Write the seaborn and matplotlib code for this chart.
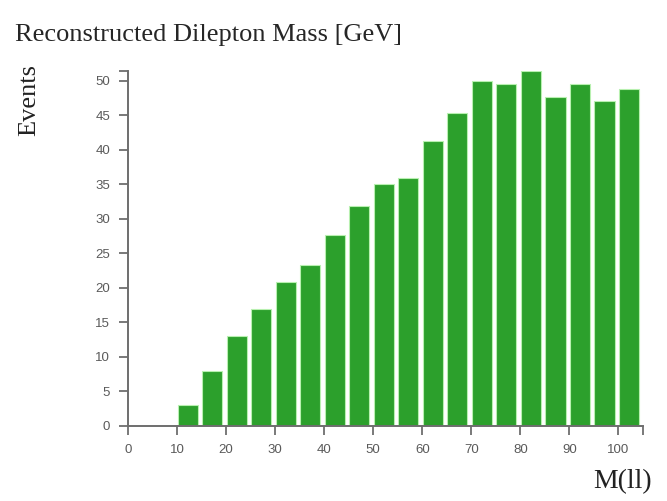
import numpy as np
import pandas as pd
import matplotlib
matplotlib.use("Agg")
import matplotlib.pyplot as plt
import seaborn as sns

# dilepton mass bins (GeV, lower edge) and event counts
bin_low = [10, 15, 20, 25, 30, 35, 40, 45, 50, 55, 60, 65, 70, 75, 80, 85, 90, 95, 100]
events = [3.0, 8.0, 13.0, 16.9, 20.9, 23.3, 27.7, 31.9, 35.1, 35.9, 41.2, 45.3,
          50.0, 49.5, 51.4, 47.7, 49.5, 47.1, 48.8]
bin_width = 5
x_ticks = [0, 10, 20, 30, 40, 50, 60, 70, 80, 90, 100]
y_ticks = [0, 5, 10, 15, 20, 25, 30, 35, 40, 45, 50]

df = pd.DataFrame({"mass": bin_low, "events": events})

sns.set_style("white")
plt.rcParams["font.family"] = ["Liberation Sans", "DejaVu Sans"]

fig = plt.figure(figsize=(6.67, 5.01), dpi=100)
ax = fig.add_axes([128 / 667, 75 / 501, 515 / 667, 355 / 501])

green = "#2ca02c"
sns.histplot(data=df, x="mass", weights="events", binwidth=bin_width, binrange=(10, 105),
             ax=ax, color=green, alpha=1, shrink=0.82, edgecolor="#b8f0b0", linewidth=0.8)
# push bars to the left edge of each bin
for p in ax.patches:
    p.set_x(p.get_x() - 0.35)

xmax = 105
ymax = max(events)
ax.set_xlim(0, xmax)
ax.set_ylim(0, ymax)
ax.set_xticks(x_ticks)
ax.set_yticks(y_ticks)
ax.set_xticks([xmax], minor=True)
ax.set_yticks([ymax], minor=True)

axis_col = "#6e6e6e"
for s in ["top", "right"]:
    ax.spines[s].set_visible(False)
for s in ["left", "bottom"]:
    ax.spines[s].set_color(axis_col)
    ax.spines[s].set_linewidth(1.4)
ax.tick_params(axis="both", which="both", direction="out", length=6.5, width=1.3,
               color=axis_col, labelcolor="#5a5a5a", labelsize=9.5, pad=6.5)
ax.tick_params(axis="both", which="major", bottom=True, left=True)
ax.tick_params(axis="both", which="minor", bottom=True, left=True)
ax.set_xlabel("")
ax.set_ylabel("")

serif = ["Liberation Serif", "DejaVu Serif"]
fig.text(15 / 667, 1 - 41 / 501, "Reconstructed Dilepton Mass [GeV]", family=serif,
         fontsize=19, color="#262626", va="baseline", ha="left")
fig.text(29 / 667, 1 - 100 / 501, "Events", family=serif, fontsize=19, rotation=90,
         color="#222222", va="center", ha="center")
fig.text(652 / 667, 1 - 488 / 501, "M(ll)", family=serif, fontsize=20,
         color="#222222", va="baseline", ha="right")

fig.savefig("out.png", dpi=100)
